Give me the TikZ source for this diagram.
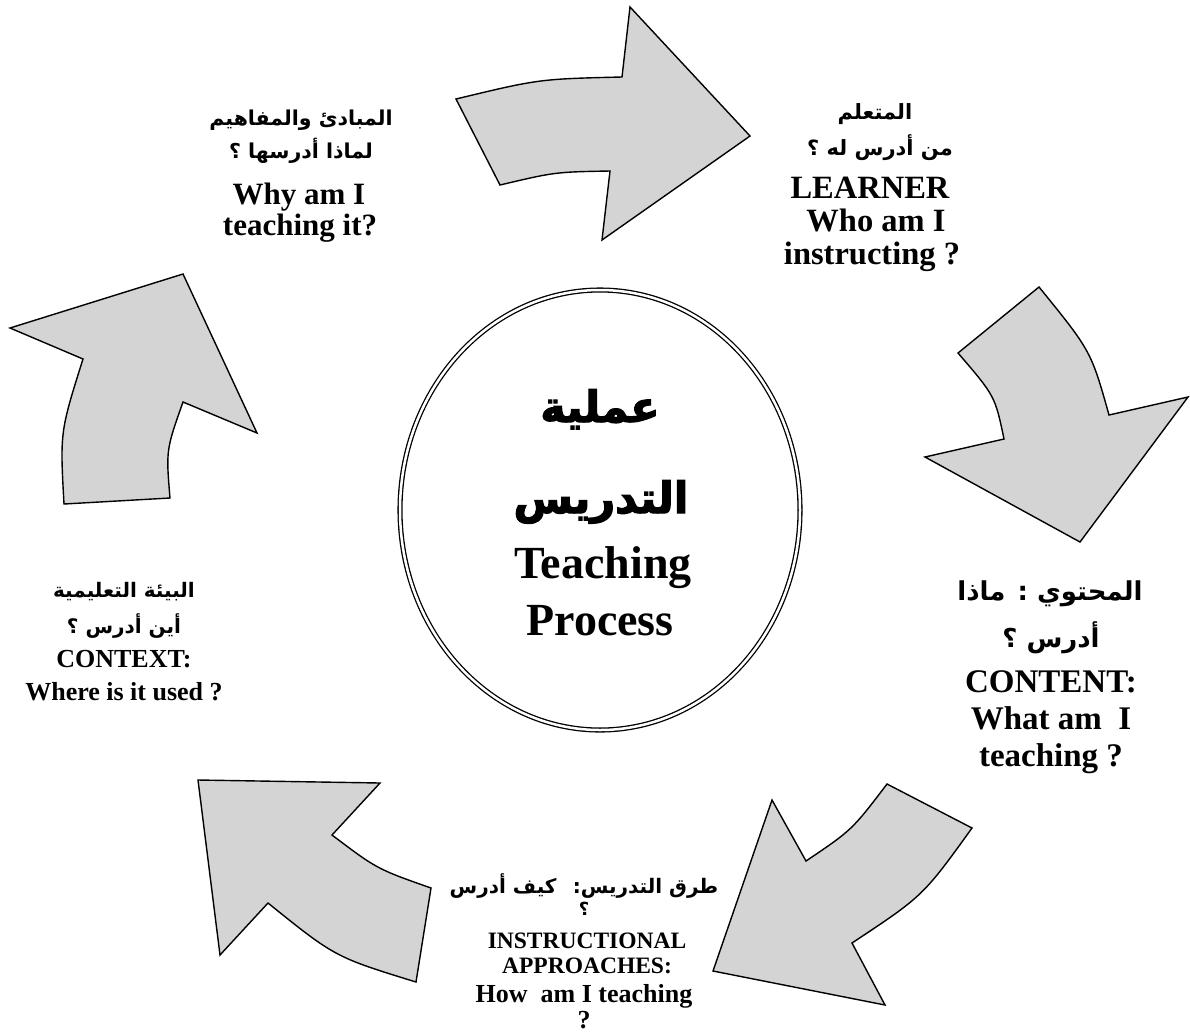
\documentclass[tikz,border=0pt]{standalone}
\usepackage{fontspec}
\setmainfont{Liberation Serif}
\newfontfamily\arabicfont[Script=Arabic]{DejaVu Sans}
\newfontfamily\arabicheavy[Script=Arabic,FakeBold=2.8]{DejaVu Sans Bold}
\usetikzlibrary{shapes.geometric}
\TeXXeTstate=1
\definecolor{arrowgray}{RGB}{212,212,212}

\begin{document}
\begin{tikzpicture}[x=1pt, y=-1pt,
  bigarrow/.style={draw=black, fill=arrowgray, line width=1.4pt, line join=miter},
  en/.style={anchor=base, inner sep=0pt, font=\bfseries\fontsize{#1}{#1}\selectfont},
  ar/.style={anchor=base, inner sep=0pt, font=\arabicfont\bfseries\fontsize{#1}{#1}\selectfont}]
  \useasboundingbox (0,0) rectangle (1190,1034);

  % the five curved arrows, clockwise from the top
  \draw[bigarrow] (456,99) .. controls (539,79) .. (622,77) -- (630,7) -- (750,136)
    -- (602,240) -- (610,171) .. controls (555,172) .. (500,185) -- cycle;
  \draw[bigarrow] (958,353) -- (1039,287) .. controls (1091,351) .. (1109,415)
    -- (1188,397) -- (1080,542) -- (925,457) -- (1004,439) .. controls (995,396) .. (958,353) -- cycle;
  \draw[bigarrow] (887,784) -- (972,828) .. controls (923,896) .. (852,943)
    -- (885,1005) -- (713,971) -- (772,800) -- (806,861) .. controls (852,830) .. (887,784) -- cycle;
  \draw[bigarrow] (198,780) -- (380,783) -- (332,835) .. controls (377,869) .. (431,888)
    -- (416,982) .. controls (335,957) .. (268,903) -- (220,955) -- cycle;
  \draw[bigarrow] (10,328) -- (183,274) -- (257,433) -- (183,402) .. controls (166,450) .. (170,498)
    -- (64,504) .. controls (60,432) .. (83,359) -- cycle;

  % centre
  \node[ellipse, draw, double, double distance=2.5pt, line width=1.3pt,
        minimum width=400pt, minimum height=440pt, inner sep=0pt] (core) at (600,510) {};
  \node[anchor=base, inner sep=0pt, font=\arabicheavy\fontsize{43}{43}\selectfont] (core1) at (600,422) {\beginR عملية\endR};
  \node[anchor=base, inner sep=0pt, font=\arabicheavy\fontsize{43}{43}\selectfont] (core2) at (601,513) {\beginR التدريس\endR};
  \node[en=46] (core3) at (603,578) {Teaching};
  \node[en=46] (core4) at (600,635) {Process};

  % principles
  \node[ar=20.5] (prin1) at (301,125) {\beginR المبادئ والمفاهيم\endR};
  \node[ar=20.5] (prin2) at (301,158) {\beginR لماذا أدرسها ؟\endR};
  \node[en=31] (prin3) at (299,204) {Why am I};
  \node[en=31] (prin4) at (300,235) {teaching it?};

  % learner
  \node[ar=21] (lrn1) at (875,119) {\beginR المتعلم\endR};
  \node[ar=21] (lrn2) at (880,155) {\beginR من أدرس له ؟\endR};
  \node[en=32.5] (lrn3) at (870,198) {LEARNER};
  \node[en=32.5] (lrn4) at (876,231) {Who am I};
  \node[en=32.5] (lrn5) at (872,264) {instructing ?};

  % content
  \node[ar=26] (cont1) at (1050,600) {\beginR المحتوي : ماذا\endR};
  \node[ar=26] (cont2) at (1051,647) {\beginR أدرس ؟\endR};
  \node[en=33] (cont3) at (1051,692) {CONTENT:};
  \node[en=33] (cont4) at (1051,729) {What am~ I};
  \node[en=33] (cont5) at (1051,766) {teaching ?};

  % instructional approaches
  \node[ar=20] (instr1) at (584,893) {\beginR طرق التدريس:~ كيف أدرس\endR};
  \node[ar=18] (instr2) at (584,915) {؟};
  \node[en=23.5] (instr3) at (587,948) {INSTRUCTIONAL};
  \node[en=23.5] (instr4) at (587,973) {APPROACHES:};
  \node[en=26] (instr5) at (584,1002) {How~ am I teaching};
  \node[en=26] (instr6) at (584,1028) {?};

  % context
  \node[ar=20] (ctx1) at (124,597) {\beginR البيئة التعليمية\endR};
  \node[ar=20] (ctx2) at (124,633) {\beginR أين أدرس ؟\endR};
  \node[en=26] (ctx3) at (124,667) {CONTEXT:};
  \node[en=26] (ctx4) at (124,700) {Where is it used ?};
\end{tikzpicture}
\end{document}
